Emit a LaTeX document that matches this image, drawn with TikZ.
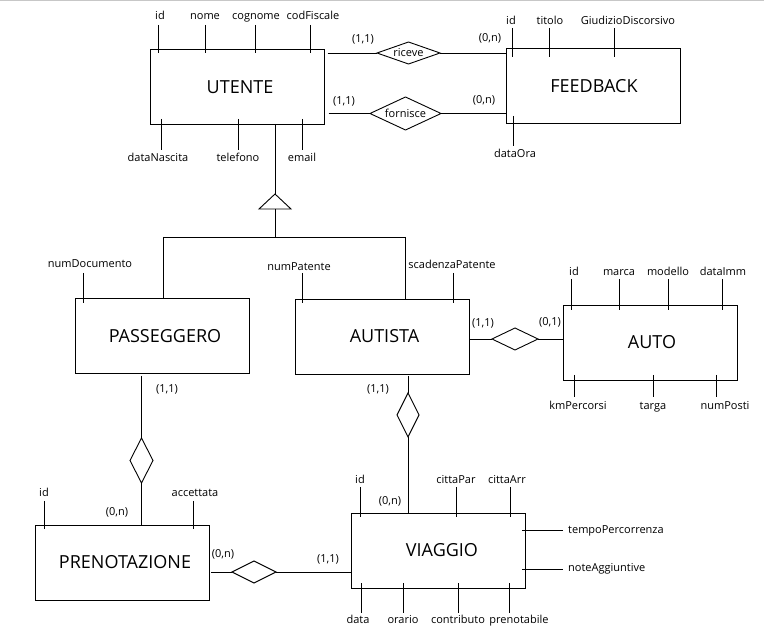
\documentclass[tikz,border=0pt]{standalone}
\usepackage{fontspec}
\setmainfont{Open Sans}
\usetikzlibrary{shapes.geometric}
\begin{document}
\begin{tikzpicture}[x=1pt,y=-1pt,
  ln/.style={line width=0.9pt},
  ent/.style={draw, line width=0.9pt, minimum width=174pt, minimum height=75pt, inner sep=0pt, outer sep=0pt},
  entname/.style={font=\fontsize{18}{20}\selectfont, inner sep=0pt},
  rel/.style={draw, diamond, line width=0.9pt, inner sep=0pt, outer sep=0pt},
  reltext/.style={font=\fontsize{11}{13}\selectfont, inner sep=0pt},
  attr/.style={font=\fontsize{11}{13}\selectfont, inner sep=0pt, anchor=base},
  attrr/.style={font=\fontsize{11}{13}\selectfont, inner sep=0pt, anchor=base west},
  card/.style={font=\fontsize{11}{13}\selectfont, inner sep=0pt}]
\useasboundingbox (0,0) rectangle (764,644);
\fill[white] (0,0) rectangle (764,644);
\draw[black!22, line width=1.5pt] (0,0.75) -- (764,0.75);

% entities
\node[ent, label={[entname,xshift=2.5pt,yshift=-1pt]center:UTENTE}] (ut) at (237.5,86.5) {};
\node[ent, label={[entname,xshift=1pt,yshift=-0.5pt]center:FEEDBACK}] (fb) at (593,85.5) {};
\node[ent, label={[entname,xshift=2.5pt,yshift=-1pt]center:PASSEGGERO}] (pa) at (162.5,335.5) {};
\node[ent, label={[entname,xshift=2.5pt,yshift=0pt]center:AUTISTA}] (as) at (382,336.5) {};
\node[ent, label={[entname,xshift=1.5pt,yshift=0pt]center:AUTO}] (auto) at (650.5,342.5) {};
\node[ent, label={[entname,xshift=3pt,yshift=0pt]center:PRENOTAZIONE}] (pr) at (122,562.5) {};
\node[ent, label={[entname,xshift=4pt,yshift=0pt]center:VIAGGIO}] (vi) at (438,550.5) {};

% relationships
\node[rel, minimum width=63pt, minimum height=22pt] (ric) at (408.5,53) {};
\node[reltext] at (ric) {riceve};
\node[rel, minimum width=71pt, minimum height=33pt] (forn) at (405.5,113.5) {};
\node[reltext] at (forn) {fornisce};
\node[rel, minimum width=46pt, minimum height=22pt] (aa) at (515,339) {};
\node[rel, minimum width=23pt, minimum height=45pt] (pp) at (141.5,460.5) {};
\node[rel, minimum width=22pt, minimum height=44pt] (av) at (408,415) {};
\node[rel, minimum width=44pt, minimum height=22pt] (pv) at (254,572) {};

% connectors
\draw[ln] ([xshift=3pt]ut.east |- ric) -- (ric.west);
\draw[ln] (ric.east) -- (fb.west |- ric);
\draw[ln] ([xshift=4pt]ut.east |- forn) -- (forn.west);
\draw[ln] (forn.east) -- (fb.west |- forn);
\draw[ln] ([xshift=1pt]as.east |- aa) -- (aa.west);
\draw[ln] (aa.east) -- (auto.west |- aa);
\draw[ln] ([yshift=-3pt]pa.south -| pp) -- (pp.north);
\draw[ln] (pp.south) -- (pr.north -| pp);
\draw[ln] ([yshift=-2pt]as.south -| av) -- (av.north);
\draw[ln] (av.south) -- (vi.north -| av);
\draw[ln] ([xshift=2pt]pr.east |- pv) -- (pv.west);
\draw[ln] (pv.east) -- (vi.west |- pv);

% generalisation
\coordinate (isa) at (275,194);
\coordinate (isab) at (275,209);
\coordinate (hl) at (163,237);
\coordinate (hr) at (405,237);
\draw[ln] (ut.south -| isa) -- (isa);
\draw[ln] (isa) -- (291,209) -- (259,209) -- cycle;
\draw[ln] (isab) -- (isab |- hl);
\draw[ln] (hl) -- (hr);
\draw[ln] (hl) -- (pa.north -| hl);
\draw[ln] (hr) -- (as.north -| hr);

% cardinalities
\node[card] at (363,39) {(1,1)};
\node[card] at (490,38) {(0,n)};
\node[card] at (344,101) {(1,1)};
\node[card] at (484,100) {(0,n)};
\node[card] at (483,323) {(1,1)};
\node[card] at (550,322) {(0,1)};
\node[card] at (167,389) {(1,1)};
\node[card] at (117,512) {(0,n)};
\node[card] at (378,389) {(1,1)};
\node[card] at (390,501) {(0,n)};
\node[card] at (223,554) {(0,n)};
\node[card] at (328,559) {(1,1)};

% UTENTE attributes
\node[attr] at (160,20) {id};          \draw[ln] (158,25) -- (158,53);
\node[attr] at (205,20) {nome};        \draw[ln] (205,25) -- (205,53);
\node[attr] at (256,20) {cognome};     \draw[ln] (255,25) -- (255,53);
\node[attr] at (313,20) {codFiscale};  \draw[ln] (310,25) -- (310,53);
\node[attr] at (158,162) {dataNascita}; \draw[ln] (161,119) -- (161,150);
\node[attr] at (238,162) {telefono};    \draw[ln] (238,119) -- (238,150);
\node[attr] at (302,162) {email};       \draw[ln] (302,119) -- (302,150);

% FEEDBACK attributes
\node[attr] at (511,24.5) {id};                 \draw[ln] (512,28) -- (512,57);
\node[attr] at (550,24.5) {titolo};             \draw[ln] (549,28) -- (549,57);
\node[attr] at (628,24.5) {GiudizioDiscorsivo}; \draw[ln] (614,28) -- (614,57);
\node[attr] at (515,158) {dataOra};             \draw[ln] (513,116) -- (513,146);

% PASSEGGERO / AUTISTA attributes
\node[attr] at (90,268) {numDocumento};     \draw[ln] (83,273) -- (83,303);
\node[attr] at (299,271) {numPatente};      \draw[ln] (302,273) -- (302,303);
\node[attr] at (452,269) {scadenzaPatente}; \draw[ln] (453,273) -- (453,303);

% AUTO attributes
\node[attr] at (574,276) {id};      \draw[ln] (571,279) -- (571,310);
\node[attr] at (619,276) {marca};   \draw[ln] (619,279) -- (619,310);
\node[attr] at (668,276) {modello}; \draw[ln] (668,279) -- (668,310);
\node[attr] at (723,276) {dataImm}; \draw[ln] (722,279) -- (722,310);
\node[attr] at (578,410) {kmPercorsi}; \draw[ln] (574,375) -- (574,397);
\node[attr] at (653,410) {targa};      \draw[ln] (653,375) -- (653,397);
\node[attr] at (725,410) {numPosti};   \draw[ln] (716,375) -- (716,397);

% PRENOTAZIONE attributes
\node[attr] at (44,497) {id};         \draw[ln] (44,501) -- (44,529);
\node[attr] at (195,497) {accettata}; \draw[ln] (193,501) -- (193,529);

% VIAGGIO attributes
\node[attr] at (360,484) {id};       \draw[ln] (360,487) -- (360,517);
\node[attr] at (456,484) {cittaPar}; \draw[ln] (456,487) -- (456,517);
\node[attr] at (507,484) {cittaArr}; \draw[ln] (510,487) -- (510,517);
\node[attrr] at (568,533) {tempoPercorrenza}; \draw[ln] (522,530) -- (563,530);
\node[attrr] at (568,571) {noteAggiuntive};   \draw[ln] (522,569) -- (563,569);
\node[attr] at (358,623) {data};        \draw[ln] (361,583) -- (361,613);
\node[attr] at (403,623) {orario};      \draw[ln] (403,583) -- (403,613);
\node[attr] at (458,623) {contributo};  \draw[ln] (458,583) -- (458,613);
\node[attr] at (519,623) {prenotabile}; \draw[ln] (509,583) -- (509,613);
\end{tikzpicture}
\end{document}
